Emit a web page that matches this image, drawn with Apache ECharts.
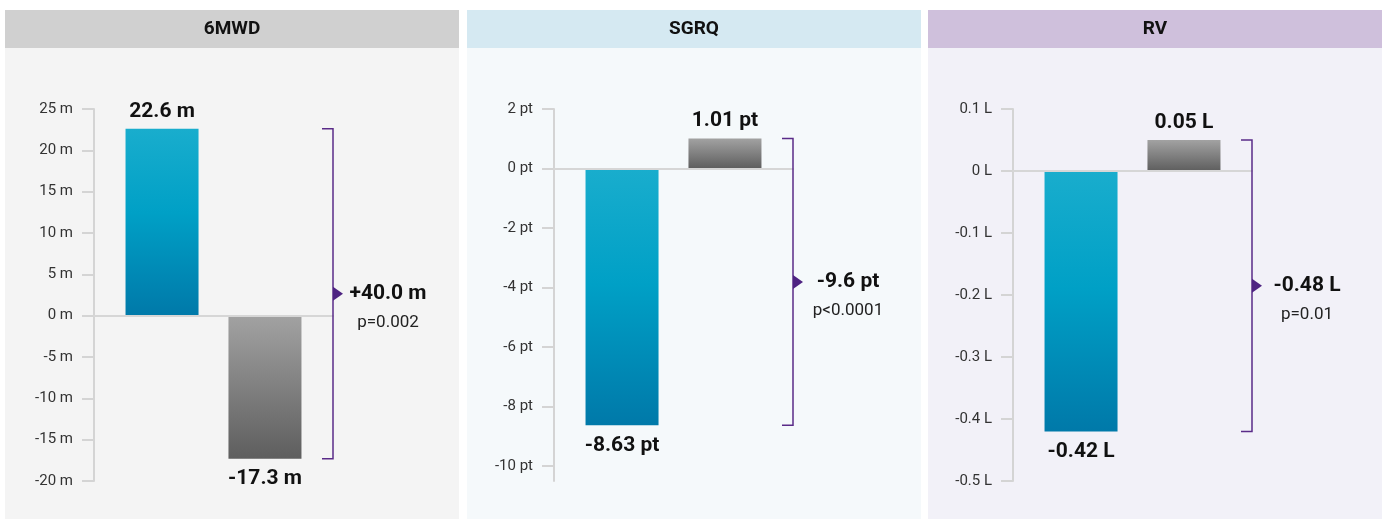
<!DOCTYPE html>
<html>
<head>
<meta charset="utf-8">
<title>Treatment effect: 6MWD, SGRQ, RV</title>
<script src="https://cdn.jsdelivr.net/npm/echarts@6/dist/echarts.min.js"></script>
<style>
  html, body { margin: 0; padding: 0; background: #ffffff; }
  #chart { width: 1387px; height: 519px; }
</style>
</head>
<body>
<div id="chart"></div>
<script>
// ---- data ----
const panelTitles = ['6MWD', 'SGRQ', 'RV'];
const units = ['m', 'pt', 'L'];
const treatmentValues = [22.6, -8.63, -0.42];
const controlValues = [-17.3, 1.01, 0.05];
const differenceLabels = ['+40.0 m', '-9.6 pt', '-0.48 L'];
const pValueLabels = ['p=0.002', 'p<0.0001', 'p=0.01'];
const ticks6MWD = [-20, -15, -10, -5, 0, 5, 10, 15, 20, 25];
const ticksSGRQ = [-10, -8, -6, -4, -2, 0, 2];
const ticksRV = [-0.5, -0.4, -0.3, -0.2, -0.1, 0, 0.1];
const axisMin = [-20, -10.5, -0.5];
const axisMax = [25, 2, 0.1];

// ---- layout & style ----
const tickSets = [ticks6MWD, ticksSGRQ, ticksRV];
const FONT = "Roboto, 'Liberation Sans', sans-serif";
const panelLeft = [5, 467, 928];
const panelWidth = 454;
const headerTop = 10, headerHeight = 38;
const gridLeft = [94, 554, 1013];
const gridWidth = 239;
const gridTop = 109, gridBottom = 38;
const headerColors = ['#d0d0d0', '#d5e9f2', '#cfc0dc'];
const bodyColors = ['#f4f4f4', '#f5f9fb', '#f2f1f8'];
const purple = '#5a2b88';

const tealFill = new echarts.graphic.LinearGradient(0, 0, 0, 1, [
  { offset: 0, color: '#19adcd' },
  { offset: 0.45, color: '#00a0c6' },
  { offset: 1, color: '#0079a9' }
]);
const grayFill = new echarts.graphic.LinearGradient(0, 0, 0, 1, [
  { offset: 0, color: '#a2a2a2' },
  { offset: 1, color: '#5e5e5e' }
]);

function fmt(v, unit) { return v + ' ' + unit; }

function barItem(v) {
  return {
    value: v,
    label: { position: v >= 0 ? 'top' : 'bottom', distance: v >= 0 ? 7 : 10 }
  };
}

const grids = [], xAxes = [], yAxes = [], series = [];
for (let i = 0; i < 3; i++) {
  const unit = units[i];
  grids.push({ left: gridLeft[i], width: gridWidth, top: gridTop, bottom: gridBottom });
  xAxes.push({
    type: 'category', gridIndex: i, data: [''], z: 3,
    axisLine: { onZero: true, lineStyle: { color: '#d6d6d6', width: 2 } },
    axisTick: { show: false }, axisLabel: { show: false }, splitLine: { show: false }
  });
  yAxes.push({
    type: 'value', gridIndex: i, min: axisMin[i], max: axisMax[i],
    axisLine: { show: true, onZero: false, lineStyle: { color: '#d4d4d4', width: 2 } },
    axisTick: { show: true, length: 12, customValues: tickSets[i], lineStyle: { color: '#d4d4d4', width: 2 } },
    axisLabel: {
      customValues: tickSets[i], margin: 21, color: '#333', fontSize: 15, fontFamily: FONT,
      formatter: v => fmt(v, unit)
    },
    splitLine: { show: false }
  });
  const label = {
    show: true, color: '#111', fontSize: 21, fontWeight: 'bold', fontFamily: FONT,
    formatter: p => fmt(p.value, unit)
  };
  series.push({
    type: 'bar', name: 'Treatment', xAxisIndex: i, yAxisIndex: i,
    barWidth: 73, barGap: '41%', itemStyle: { color: tealFill }, label,
    data: [barItem(treatmentValues[i])]
  });
  series.push({
    type: 'bar', name: 'Control', xAxisIndex: i, yAxisIndex: i,
    barWidth: 73, barGap: '41%', itemStyle: { color: grayFill }, label,
    data: [barItem(controlValues[i])]
  });
}

const chart = echarts.init(document.getElementById('chart'), null, { renderer: 'canvas' });
chart.setOption({
  animation: false,
  backgroundColor: '#ffffff',
  textStyle: { fontFamily: FONT },
  grid: grids, xAxis: xAxes, yAxis: yAxes, series
});

// panels, headers and the difference brackets
const graphics = [];
for (let i = 0; i < 3; i++) {
  graphics.push({
    type: 'rect', z: -10, silent: true,
    shape: { x: panelLeft[i], y: headerTop + headerHeight, width: panelWidth, height: 519 - headerTop - headerHeight },
    style: { fill: bodyColors[i] }
  });
  graphics.push({
    type: 'rect', z: -10, silent: true,
    shape: { x: panelLeft[i], y: headerTop, width: panelWidth, height: headerHeight },
    style: { fill: headerColors[i] }
  });
  graphics.push({
    type: 'text', z: 5, silent: true,
    x: panelLeft[i] + panelWidth / 2, y: headerTop + headerHeight / 2,
    style: {
      text: panelTitles[i], fill: '#111', font: 'bold 19px ' + FONT,
      textAlign: 'center', textVerticalAlign: 'middle'
    }
  });

  const hi = Math.max(treatmentValues[i], controlValues[i]);
  const lo = Math.min(treatmentValues[i], controlValues[i]);
  const yHi = chart.convertToPixel({ yAxisIndex: i }, hi);
  const yLo = chart.convertToPixel({ yAxisIndex: i }, lo);
  const bx = gridLeft[i] + gridWidth;
  const ym = (yHi + yLo) / 2;
  graphics.push({
    type: 'polyline', z: 5, silent: true,
    shape: { points: [[bx - 11, yHi], [bx, yHi], [bx, yLo], [bx - 11, yLo]] },
    style: { stroke: purple, lineWidth: 1.5, fill: null }
  });
  graphics.push({
    type: 'polygon', z: 5, silent: true,
    shape: { points: [[bx, ym - 7], [bx + 10, ym], [bx, ym + 7]] },
    style: { fill: '#4e2382' }
  });
  graphics.push({
    type: 'text', z: 5, silent: true, x: bx + 55, y: ym,
    style: {
      text: differenceLabels[i], fill: '#111', font: 'bold 21px ' + FONT,
      textAlign: 'center', textVerticalAlign: 'middle'
    }
  });
  graphics.push({
    type: 'text', z: 5, silent: true, x: bx + 55, y: ym + 29,
    style: {
      text: pValueLabels[i], fill: '#222', font: '17px ' + FONT,
      textAlign: 'center', textVerticalAlign: 'middle'
    }
  });
}
chart.setOption({ graphic: graphics });
</script>
</body>
</html>
